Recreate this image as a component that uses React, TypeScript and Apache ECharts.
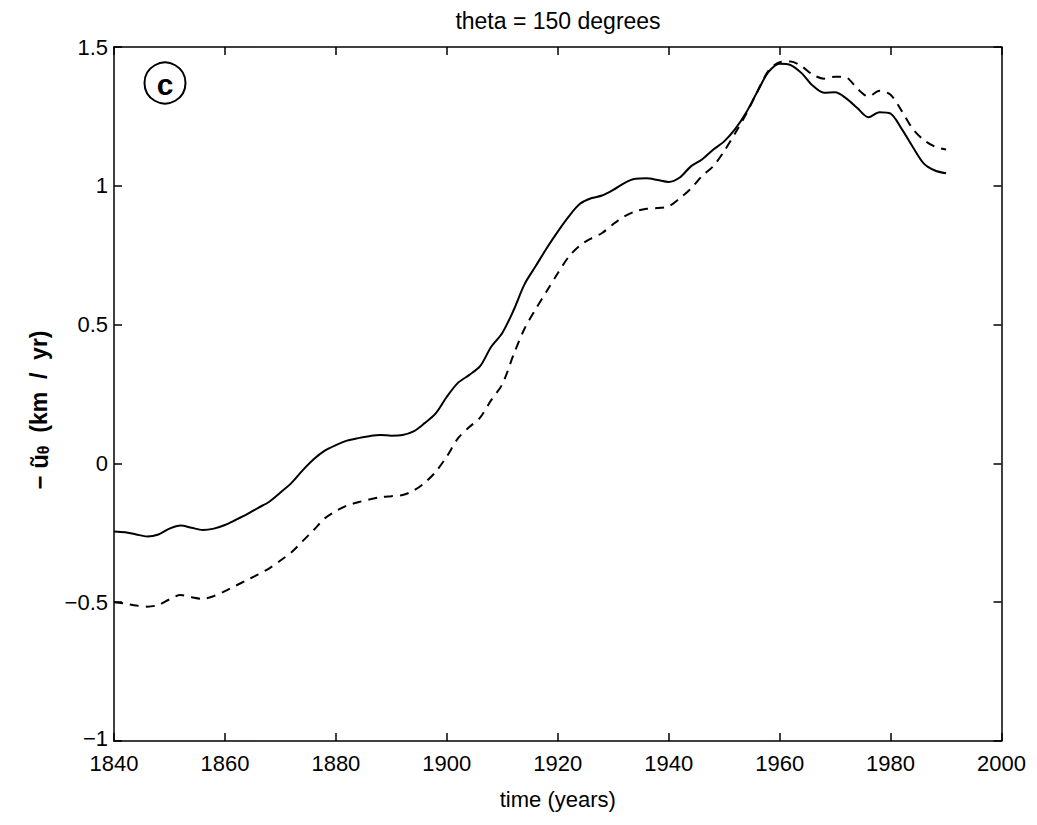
import React, { useEffect, useRef } from "react";
import * as echarts from "echarts";

const years = [
  1840, 1842, 1844, 1846, 1848, 1850, 1852, 1854, 1856, 1858, 1860, 1862, 1864, 1866, 1868, 1870,
  1872, 1874, 1876, 1878, 1880, 1882, 1884, 1886, 1888, 1890, 1892, 1894, 1896, 1898, 1900, 1902,
  1904, 1906, 1908, 1910, 1912, 1914, 1916, 1918, 1920, 1922, 1924, 1926, 1928, 1930, 1932, 1934,
  1936, 1938, 1940, 1942, 1944, 1946, 1948, 1950, 1952, 1954, 1956, 1958, 1960, 1962, 1964, 1966,
  1968, 1970, 1972, 1974, 1976, 1978, 1980, 1982, 1984, 1986, 1988, 1990,
];

const solidValues = [
  -0.245, -0.248, -0.256, -0.263, -0.256, -0.235, -0.224, -0.232, -0.24, -0.235, -0.222, -0.203,
  -0.183, -0.16, -0.138, -0.105, -0.07, -0.025, 0.015, 0.046, 0.066, 0.082, 0.091, 0.098, 0.102,
  0.1, 0.102, 0.115, 0.145, 0.18, 0.24, 0.29, 0.318, 0.35, 0.42, 0.47, 0.55, 0.645, 0.71, 0.775,
  0.835, 0.89, 0.935, 0.955, 0.965, 0.985, 1.01, 1.025, 1.027, 1.021, 1.014, 1.03, 1.07, 1.095,
  1.13, 1.16, 1.205, 1.265, 1.34, 1.41, 1.44, 1.435, 1.405, 1.36, 1.335, 1.337, 1.315, 1.28, 1.247,
  1.265, 1.26, 1.205, 1.14, 1.08, 1.055, 1.045,
];

const dashedValues = [
  -0.5, -0.505, -0.512, -0.516, -0.51, -0.49, -0.474, -0.482, -0.488, -0.478, -0.46, -0.44, -0.42,
  -0.4, -0.378, -0.35, -0.32, -0.28, -0.24, -0.198, -0.172, -0.152, -0.14, -0.13, -0.122, -0.118,
  -0.114, -0.098, -0.07, -0.03, 0.025, 0.09, 0.13, 0.165, 0.228, 0.285, 0.39, 0.485, 0.555, 0.62,
  0.685, 0.745, 0.785, 0.81, 0.83, 0.862, 0.89, 0.908, 0.917, 0.92, 0.926, 0.955, 0.99, 1.035, 1.07,
  1.125, 1.19, 1.26, 1.34, 1.415, 1.445, 1.448, 1.43, 1.4, 1.386, 1.393, 1.39, 1.35, 1.322, 1.342,
  1.328, 1.27, 1.205, 1.165, 1.141, 1.131,
];

const titleText = "theta = 150 degrees";
const xName = "time (years)";
const panelLetter = "c";

const FONT = "'Liberation Sans', Arial, Helvetica, sans-serif";

export default function App() {
  const ref = useRef<HTMLDivElement>(null);
  useEffect(() => {
    if (!ref.current) return;
    const chart = echarts.init(ref.current, undefined, { renderer: "svg" });
    const fmtY = (v: number) => {
      const s = String(v).replace("-", "\u2212");
      return v === -1 ? `{low|${s}}` : s;
    };
    const fmtX = (v: number) => String(v);
    const axisLine = { show: true, onZero: false, lineStyle: { color: "#000", width: 1.5 } };
    const axisTick = { show: true, inside: true, length: 8, lineStyle: { color: "#000", width: 1.5 } };
    chart.setOption({
      animation: false,
      backgroundColor: "#fff",
      grid: { left: 106, right: 22, top: 39, bottom: 76, containLabel: false },
      xAxis: [
        {
          type: "value",
          min: 1840,
          max: 2000,
          interval: 20,
          position: "bottom",
          axisLine,
          axisTick,
          splitLine: { show: false },
          axisLabel: { fontFamily: FONT, fontSize: 22, lineHeight: 18, color: "#000", margin: 13, formatter: fmtX },
          name: xName,
          nameLocation: "middle",
          nameGap: 47,
          nameTextStyle: { fontFamily: FONT, fontSize: 22, color: "#000" },
        },
        {
          type: "value",
          min: 1840,
          max: 2000,
          interval: 20,
          position: "top",
          axisLine,
          axisTick,
          splitLine: { show: false },
          axisLabel: { show: false },
        },
      ],
      yAxis: [
        {
          type: "value",
          min: -1,
          max: 1.5,
          interval: 0.5,
          position: "left",
          axisLine,
          axisTick,
          splitLine: { show: false },
          axisLabel: {
            fontFamily: FONT,
            fontSize: 22,
            lineHeight: 16,
            color: "#000",
            margin: 6,
            formatter: fmtY,
            rich: {
              low: { fontFamily: FONT, fontSize: 22, lineHeight: 16, color: "#000", padding: [0, 0, 5, 0] },
            },
          },
        },
        {
          type: "value",
          min: -1,
          max: 1.5,
          interval: 0.5,
          position: "right",
          axisLine,
          axisTick,
          splitLine: { show: false },
          axisLabel: { show: false },
        },
      ],
      series: [
        {
          type: "line",
          data: years.map((y, i) => [y, solidValues[i]]),
          showSymbol: false,
          smooth: 0.3,
          lineStyle: { color: "#000", width: 2 },
          silent: true,
        },
        {
          type: "line",
          data: years.map((y, i) => [y, dashedValues[i]]),
          showSymbol: false,
          smooth: 0.3,
          lineStyle: { color: "#000", width: 2, type: [9, 7] },
          silent: true,
        },
      ],
      graphic: [
        {
          type: "text",
          x: 550,
          y: 12.5,
          style: {
            text: titleText,
            fontFamily: FONT,
            fontSize: 23,
            fill: "#000",
            align: "center",
            verticalAlign: "middle",
          },
        },
        {
          type: "circle",
          shape: { cx: 157, cy: 75, r: 20.5 },
          style: { fill: "none", stroke: "#000", lineWidth: 2 },
        },
        {
          type: "text",
          x: 157,
          y: 76,
          style: {
            text: panelLetter,
            fontFamily: FONT,
            fontSize: 30,
            fontWeight: "bold",
            fill: "#000",
            align: "center",
            verticalAlign: "middle",
          },
        },
        {
          type: "text",
          x: 31,
          y: 402,
          rotation: Math.PI / 2,
          style: {
            text: "{b|\u2212 \u0169}{s|\u03b8}{n|  (km  /  yr)}",
            align: "center",
            verticalAlign: "middle",
            rich: {
              b: { fontFamily: FONT, fontSize: 24, fontWeight: "bold", fill: "#000" },
              s: { fontFamily: FONT, fontSize: 16, fontWeight: "bold", fill: "#000", padding: [9, 0, 0, 0] },
              n: { fontFamily: FONT, fontSize: 23, fontWeight: "bold", fill: "#000" },
            },
          },
        },
      ],
    });
    return () => chart.dispose();
  }, []);
  return <div ref={ref} style={{ width: 1021, height: 809 }} />;
}
